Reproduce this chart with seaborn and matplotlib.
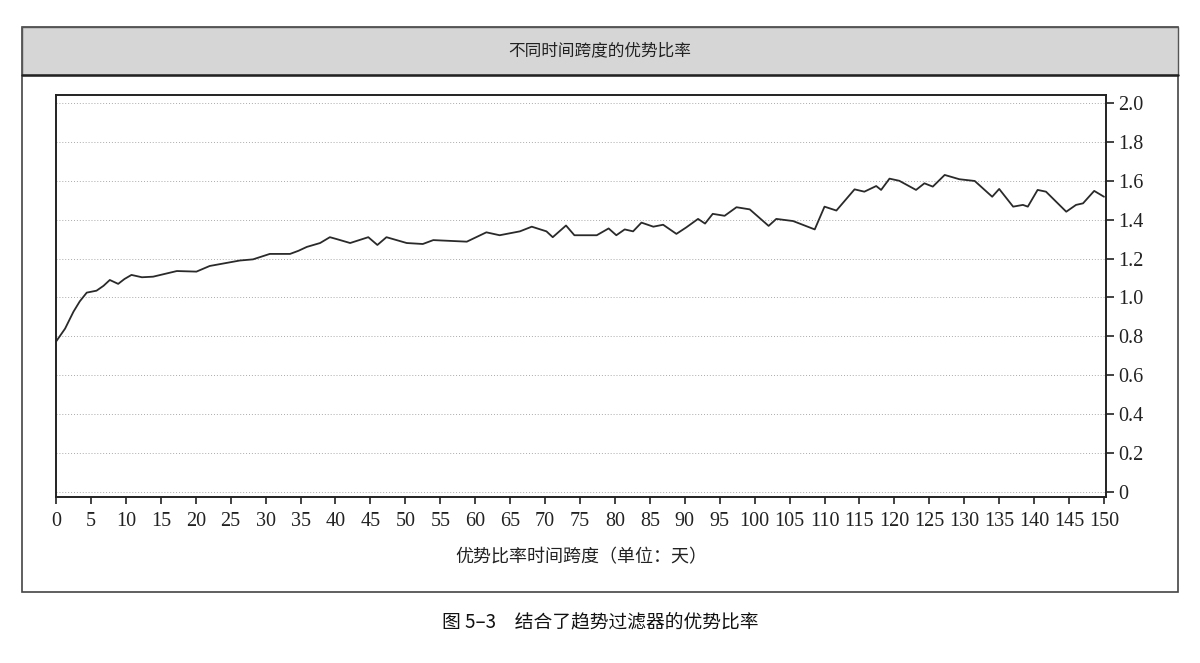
import numpy as np
import pandas as pd
import matplotlib
matplotlib.use("Agg")
import matplotlib.pyplot as plt
from matplotlib.patches import Rectangle
from matplotlib.lines import Line2D
import seaborn as sns

# 数据：优势比率时间跨度（天）与对应的优势比率
days = [0, 1.3, 2.5, 3.4, 4.4, 5.8, 6.8, 7.7, 8.9, 9.8, 10.8, 12.3, 13.9, 17.3,
        20.1, 22, 26.3, 28.2, 30.6, 33.5, 34.7, 35.9, 37.8, 39.2, 40.2, 42.1,
        44.7, 46, 47.3, 50.2, 52.5, 54, 58.8, 61.6, 63.5, 66.4, 68.1, 70.2,
        71.1, 73, 74.2, 77.4, 79.1, 80.2, 81.4, 82.6, 83.8, 85.5, 86.9, 88.8,
        90.2, 91.9, 92.9, 94, 95.7, 97.4, 99.3, 102, 103.1, 105.5, 108.6, 110,
        111.7, 114.3, 115.7, 117.4, 118.1, 119.3, 120.7, 123.1, 124.3, 125.5,
        127.2, 129.3, 131.5, 134, 135, 137, 138.4, 139.1, 140.5, 141.7, 144.6,
        146, 147, 148.6, 150]
ratio = [0.773, 0.84, 0.927, 0.98, 1.025, 1.035, 1.06, 1.09, 1.07, 1.095,
         1.116, 1.104, 1.107, 1.136, 1.133, 1.162, 1.19, 1.196, 1.224, 1.224,
         1.24, 1.26, 1.28, 1.31, 1.30, 1.28, 1.31, 1.27, 1.31, 1.28, 1.275,
         1.295, 1.287, 1.335, 1.32, 1.34, 1.364, 1.34, 1.31, 1.37, 1.32, 1.32,
         1.355, 1.32, 1.35, 1.34, 1.385, 1.364, 1.374, 1.327, 1.36, 1.404,
         1.38, 1.43, 1.42, 1.464, 1.453, 1.368, 1.404, 1.393, 1.35, 1.467,
         1.447, 1.556, 1.544, 1.573, 1.553, 1.611, 1.60, 1.553, 1.587, 1.57,
         1.63, 1.608, 1.599, 1.518, 1.558, 1.467, 1.476, 1.467, 1.553, 1.544,
         1.441, 1.476, 1.484, 1.548, 1.518]

x_ticks = list(range(0, 151, 5))
y_ticks = [0, 0.2, 0.4, 0.6, 0.8, 1.0, 1.2, 1.4, 1.6, 1.8, 2.0]
y_labels = ["0", "0.2", "0.4", "0.6", "0.8", "1.0", "1.2", "1.4", "1.6", "1.8", "2.0"]

chart_title = "不同时间跨度的优势比率"
x_title = "优势比率时间跨度（单位：天）"
caption = "图 5–3　结合了趋势过滤器的优势比率"

sns.set_style("white")
plt.rcParams["font.family"] = ["Liberation Serif", "Noto Sans CJK SC", "DejaVu Sans"]
cjk = ["Noto Sans CJK SC", "DejaVu Sans"]

df = pd.DataFrame({"day": days, "ratio": ratio})

fig = plt.figure(figsize=(12, 6.63), dpi=100)
W, H = 1200, 663

# 外框和标题栏
fig.patches.append(Rectangle((22 / W, 1 - 592 / H), 1156 / W, 565 / H,
                             transform=fig.transFigure, facecolor="none",
                             edgecolor="#444444", lw=1.2))
fig.patches.append(Rectangle((22 / W, 1 - 75 / H), 1156 / W, 48 / H,
                             transform=fig.transFigure, facecolor="#d6d6d6",
                             edgecolor="#555555", lw=1.0))
fig.lines.append(Line2D([22 / W, 1178 / W], [1 - 75 / H, 1 - 75 / H],
                        transform=fig.transFigure, color="#222222", lw=1.8))
fig.text(0.5, 1 - 51 / H, chart_title, ha="center", va="center", fontsize=12,
         family=cjk, color="#222222")

ax = fig.add_axes([56 / W, 1 - 497 / H, 1050 / W, 402 / H])
sns.lineplot(data=df, x="day", y="ratio", ax=ax, color="#2a2a2a", lw=1.3)

ax.set_xlim(0, 150.29)
ax.set_ylim(-0.0257, 2.041)
ax.set_xticks(x_ticks)
ax.set_xticklabels([str(t) for t in x_ticks], fontsize=14.5)
ax.yaxis.tick_right()
ax.set_yticks(y_ticks)
ax.set_yticklabels(y_labels, fontsize=14.5)
ax.tick_params(axis="x", direction="out", length=5, width=1.2, color="#222222",
               labelcolor="#222222", pad=6, bottom=True)
ax.tick_params(axis="y", direction="out", length=6, width=1.2, color="#222222",
               labelcolor="#222222", pad=3, right=True, left=False)
for y in y_ticks:
    ax.axhline(y, color="#aaaaaa", lw=0.7, ls=(0, (1, 2)), zorder=0)
for s in ax.spines.values():
    s.set_color("#222222")
    s.set_linewidth(1.4)
ax.set_xlabel(x_title, fontsize=13, labelpad=12, family=cjk, color="#222222")
ax.set_ylabel("")

fig.text(0.5, 1 - 622 / H, caption, ha="center", va="center", fontsize=13.5,
         family=cjk, fontweight="medium", color="#111111")

fig.savefig("out.png", dpi=100, facecolor="white")
